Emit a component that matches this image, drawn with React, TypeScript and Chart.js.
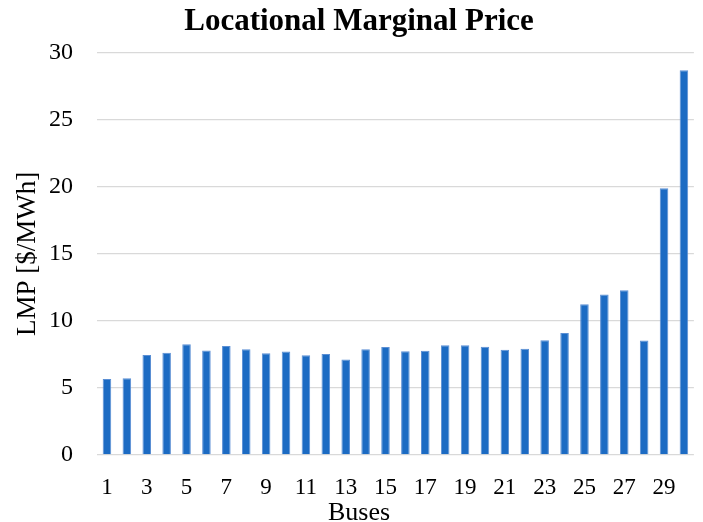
import React, { useEffect, useRef } from "react";
import { Chart, registerables } from "chart.js";

Chart.register(...registerables);

const buses: string[] = Array.from({ length: 30 }, (_, i) => String(i + 1));
const lmpValues: number[] = [
  5.67, 5.72, 7.46, 7.63, 8.25, 7.8, 8.13, 7.88, 7.58, 7.71,
  7.43, 7.53, 7.13, 7.88, 8.05, 7.73, 7.78, 8.18, 8.18, 8.08,
  7.85, 7.93, 8.55, 9.1, 11.24, 11.96, 12.28, 8.53, 19.89, 28.7,
];
const yTicks: number[] = [0, 5, 10, 15, 20, 25, 30];
const titleText = "Locational Marginal Price";
const yTitle = "LMP [$/MWh]";
const xTitle = "Buses";

const FONT = "'Liberation Serif', 'Times New Roman', serif";

const xTitlePlugin = {
  id: "xTitlePlugin",
  afterDraw(chart: any) {
    const ctx = chart.ctx;
    ctx.save();
    ctx.font = `26px ${FONT}`;
    ctx.fillStyle = "#000";
    ctx.textAlign = "center";
    ctx.textBaseline = "alphabetic";
    ctx.fillText(xTitle, 359, 520);
    ctx.restore();
  },
};

export default function App() {
  const ref = useRef<HTMLCanvasElement | null>(null);
  useEffect(() => {
    if (!ref.current) return;
    const chart = new Chart(ref.current, {
      type: "bar",
      data: {
        labels: buses,
        datasets: [
          {
            label: "LMP",
            data: lmpValues,
            backgroundColor: "#1C6BC3",
            borderColor: "#5B8FD4",
            borderWidth: 1,
            categoryPercentage: 1,
            barPercentage: 0.43,
          },
        ],
      },
      options: {
        animation: false,
        responsive: false,
        maintainAspectRatio: false,
        layout: { padding: { left: 19, right: 4, top: 0, bottom: 0 } },
        plugins: {
          legend: { display: false },
          tooltip: { enabled: false },
          title: {
            display: true,
            text: titleText,
            color: "#000",
            font: { family: FONT, size: 31, weight: "bold" },
            padding: { top: 3, bottom: 12.5 },
          },
        },
        scales: {
          x: {
            grid: { display: false, drawTicks: false },
            border: { display: false },
            afterFit: (s: any) => {
              s.height = 67;
            },
            ticks: {
              autoSkip: false,
              maxRotation: 0,
              minRotation: 0,
              padding: 19,
              color: "#000",
              font: { family: FONT, size: 23 },
              callback: (_v: any, i: number) => (i % 2 === 0 ? buses[i] : ""),
            },
          },
          y: {
            min: 0,
            max: 30,
            afterFit: (s: any) => {
              s.width = 78;
            },
            afterBuildTicks: (s: any) => {
              s.ticks = yTicks.map((v) => ({ value: v }));
            },
            grid: { color: "#D9D9D9", lineWidth: 1.3, drawTicks: false },
            border: { display: false },
            ticks: {
              padding: 24,
              color: "#000",
              font: { family: FONT, size: 24 },
            },
            title: {
              display: true,
              text: yTitle,
              color: "#000",
              font: { family: FONT, size: 27 },
              padding: { top: -7, bottom: 0 },
            },
          },
        },
      },
      plugins: [xTitlePlugin],
    });
    return () => chart.destroy();
  }, []);
  return (
    <div style={{ position: "absolute", left: 0, top: 0, width: 703, height: 522, background: "#fff" }}>
      <canvas ref={ref} width={703} height={522} style={{ width: 703, height: 522 }} />
    </div>
  );
}
